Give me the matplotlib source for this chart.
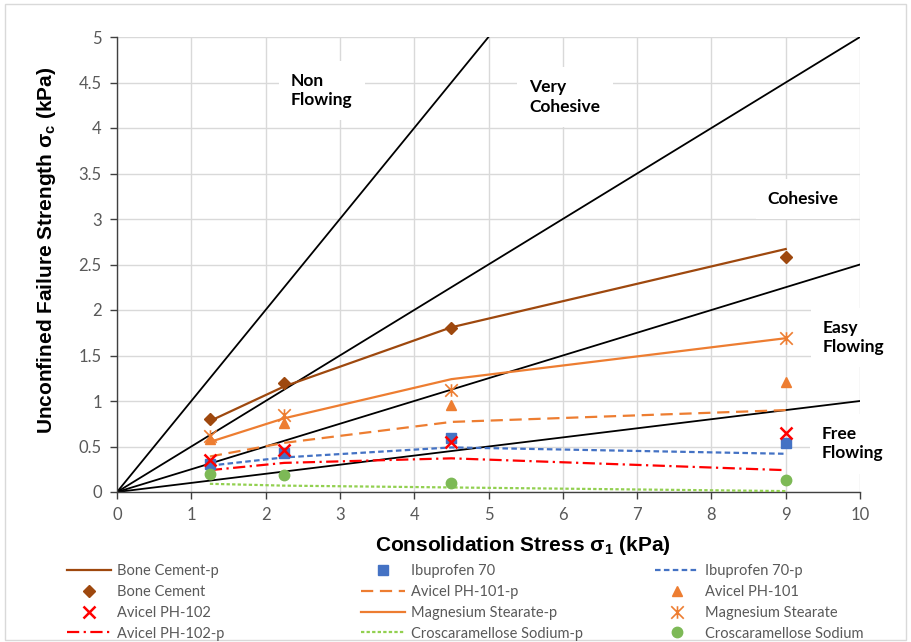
import matplotlib
matplotlib.use('Agg')
import matplotlib.pyplot as plt
from matplotlib.patches import Rectangle
from matplotlib.path import Path

plt.rcParams['mathtext.default'] = 'regular'

# consolidation stress (kPa) at which each powder was tested
stress = [1.25, 2.25, 4.5, 9]

# measured unconfined failure strength (kPa)
bone_cement = [0.80, 1.20, 1.80, 2.58]
ibuprofen = [0.31, 0.43, 0.59, 0.54]
avicel101 = [0.58, 0.76, 0.96, 1.21]
avicel102 = [0.35, 0.46, 0.55, 0.65]
mg_stearate = [0.61, 0.85, 1.12, 1.69]
cros = [0.20, 0.19, 0.10, 0.13]

# predicted (-p) unconfined failure strength (kPa)
bone_cement_p = [0.78, 1.16, 1.81, 2.67]
ibuprofen_p = [0.29, 0.38, 0.49, 0.42]
avicel101_p = [0.39, 0.54, 0.77, 0.90]
avicel102_p = [0.24, 0.32, 0.37, 0.24]
mg_stearate_p = [0.55, 0.81, 1.24, 1.69]
cros_p = [0.09, 0.07, 0.05, 0.01]

# flow function boundaries ffc = sigma1 / sigma_c
ffc_limits = [1, 2, 4, 10]
region_names = ['Non\nFlowing', 'Very\nCohesive', 'Cohesive', 'Easy\nFlowing', 'Free\nFlowing']

BROWN = '#9E480E'
ORANGE = '#ED7D31'
BLUE = '#4472C4'
RED = '#FF0000'
GREEN = '#7DB956'
LGREEN = '#92D050'
GRAY = '#595959'

# excel style "star" marker: an x with a vertical bar through it
star = Path([(-1, -1), (1, 1), (-1, 1), (1, -1), (0, -1), (0, 1)],
            [Path.MOVETO, Path.LINETO, Path.MOVETO, Path.LINETO, Path.MOVETO, Path.LINETO])

fig = plt.figure(figsize=(9.11, 6.42), dpi=100)
W, H = 911, 642
ax = fig.add_axes([117 / W, 1 - 492 / H, 743 / W, 455 / H])

# chart border
fig.patches.append(Rectangle((5 / W, 2 / H), 901 / W, 636 / H, transform=fig.transFigure,
                             fill=False, edgecolor='#d9d9d9', linewidth=1))

# region boundary lines
for ffc in ffc_limits:
    ax.plot([0, 10], [0, 10 / ffc], color='black', linewidth=1.3, zorder=2)

h = {}
h['Bone Cement-p'], = ax.plot(stress, bone_cement_p, color=BROWN, lw=1.6, label='Bone Cement-p', zorder=3)
h['Bone Cement'], = ax.plot(stress, bone_cement, ls='none', marker='D', ms=6.5, color=BROWN, label='Bone Cement', zorder=4)
h['Ibuprofen 70'], = ax.plot(stress, ibuprofen, ls='none', marker='s', ms=7, color=BLUE, label='Ibuprofen 70', zorder=4)
h['Ibuprofen 70-p'], = ax.plot(stress, ibuprofen_p, color=BLUE, lw=1.6, ls=(0, (2.5, 1.5)), label='Ibuprofen 70-p', zorder=3)
h['Avicel PH-101-p'], = ax.plot(stress, avicel101_p, color=ORANGE, lw=1.6, ls=(0, (5.5, 3)), label='Avicel PH-101-p', zorder=3)
h['Avicel PH-101'], = ax.plot(stress, avicel101, ls='none', marker='^', ms=7.5, color=ORANGE, label='Avicel PH-101', zorder=4)
h['Avicel PH-102'], = ax.plot(stress, avicel102, ls='none', marker='x', ms=8, mew=1.8, color=RED, label='Avicel PH-102', zorder=5)
h['Avicel PH-102-p'], = ax.plot(stress, avicel102_p, color=RED, lw=1.6, ls=(0, (5.5, 2, 1, 2)), label='Avicel PH-102-p', zorder=3)
h['Magnesium Stearate-p'], = ax.plot(stress, mg_stearate_p, color=ORANGE, lw=1.6, label='Magnesium Stearate-p', zorder=3)
h['Magnesium Stearate'], = ax.plot(stress, mg_stearate, ls='none', marker=star, ms=9, mew=1.2,
                                   color=ORANGE, label='Magnesium Stearate', zorder=4)
h['Croscaramellose Sodium-p'], = ax.plot(stress, cros_p, color=LGREEN, lw=1.6, ls=(0, (1.5, 1)),
                                         label='Croscaramellose Sodium-p', zorder=3)
h['Croscaramellose Sodium'], = ax.plot(stress, cros, ls='none', marker='o', ms=7.5, color=GREEN,
                                       label='Croscaramellose Sodium', zorder=4)

# region labels
label_pos = [(2.34, 4.41), (5.55, 4.34), (8.76, 3.22), (9.50, 1.70), (9.49, 0.53)]
for name, (lx, ly) in zip(region_names, label_pos):
    ax.text(lx, ly, name, ha='left', va='center', fontsize=12.5, fontweight='bold',
            family='Lato', color='black', linespacing=1.25, zorder=1.5,
            bbox=dict(boxstyle='square,pad=0.7', facecolor='white', edgecolor='none'))

ax.set_xlim(0, 10)
ax.set_ylim(0, 5)
ax.set_xticks(range(0, 11))
ax.set_yticks([i * 0.5 for i in range(11)])
ax.set_yticklabels(['%g' % (i * 0.5) for i in range(11)])
ax.set_axisbelow(True)
ax.grid(True, color='#d9d9d9', linewidth=1)
for s in ['top', 'right']:
    ax.spines[s].set_visible(False)
for s in ['left', 'bottom']:
    ax.spines[s].set_color('#404040')
    ax.spines[s].set_linewidth(1)
ax.tick_params(direction='out', length=5, width=1, color='#404040', labelcolor=GRAY,
               labelsize=12, pad=6)
for lab in ax.get_xticklabels() + ax.get_yticklabels():
    lab.set_family('Lato')

ax.set_xlabel(r'Consolidation Stress σ$_{1}$ (kPa)', fontsize=15, fontweight='bold',
              family='Liberation Sans')
ax.set_ylabel(r'Unconfined Failure Strength σ$_{c}$ (kPa)', fontsize=15, fontweight='bold',
              family='Liberation Sans')
ax.xaxis.set_label_coords(0.546, -0.092)
ax.yaxis.set_label_coords(-0.079, 0.532)

# legend: three columns laid out like the original
columns = [
    ['Bone Cement-p', 'Bone Cement', 'Avicel PH-102', 'Avicel PH-102-p'],
    ['Ibuprofen 70', 'Avicel PH-101-p', 'Magnesium Stearate-p', 'Croscaramellose Sodium-p'],
    ['Ibuprofen 70-p', 'Avicel PH-101', 'Magnesium Stearate', 'Croscaramellose Sodium'],
]
col_x = [67, 361, 655]
for names, cx in zip(columns, col_x):
    leg = fig.legend([h[n] for n in names], names, loc='upper left',
                     bbox_to_anchor=(cx / W, 1 - 564 / H), frameon=False,
                     borderpad=0, borderaxespad=0, handlelength=3.0, handletextpad=0.42,
                     labelspacing=0.47, numpoints=1,
                     prop={'family': 'Lato', 'size': 10.5})
    for t in leg.get_texts():
        t.set_color(GRAY)

fig.savefig('out.png', dpi=100)
